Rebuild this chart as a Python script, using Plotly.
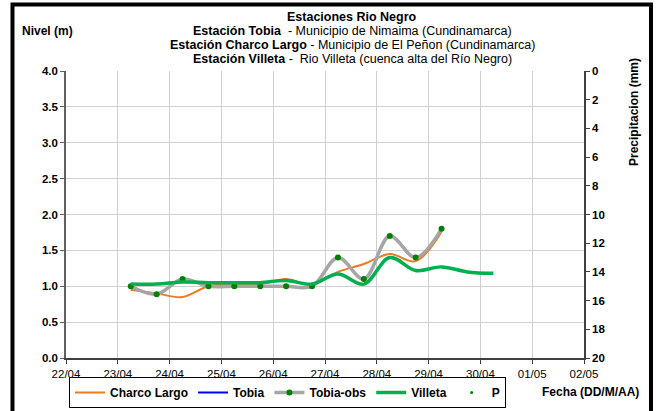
import plotly.graph_objects as go

# dates of the 12-hour readings
fechas = ["2011-04-23 06:00", "2011-04-23 18:00", "2011-04-24 06:00", "2011-04-24 18:00",
          "2011-04-25 06:00", "2011-04-25 18:00", "2011-04-26 06:00", "2011-04-26 18:00",
          "2011-04-27 06:00", "2011-04-27 18:00", "2011-04-28 06:00", "2011-04-28 18:00",
          "2011-04-29 06:00"]
fechas_villeta = fechas + ["2011-04-29 18:00", "2011-04-30 06:00"]

charco_largo = [0.95, 0.90, 0.85, 1.00, 1.03, 1.03, 1.10, 1.02, 1.20, 1.31, 1.45, 1.35, 1.76]
tobia = [1.00, 0.89, 1.10, 1.00, 1.00, 1.00, 1.00, 1.00, 1.40, 1.10, 1.70, 1.40, 1.80]
tobia_obs = [1.00, 0.89, 1.10, 1.00, 1.00, 1.00, 1.00, 1.00, 1.40, 1.10, 1.70, 1.40, 1.80]
villeta = [1.03, 1.03, 1.06, 1.05, 1.05, 1.05, 1.08, 1.03, 1.17, 1.03, 1.40, 1.22, 1.27, 1.20, 1.18]
precip = [None]  # no rainfall recorded in the period

x_ticks = ["2011-04-%02d" % d for d in range(22, 31)] + ["2011-05-01", "2011-05-02"]

FONT = "Liberation Sans, Arial, sans-serif"

W, H = 656, 411
# plot area in pixels: x 66..584, y 71..358
L, R, T, B = 66, 584, 71, 358
def px(x):
    return (x - L) / (R - L)
def py(y):
    return (B - y) / (B - T)

fig = go.Figure()
fig.add_trace(go.Scatter(x=fechas, y=charco_largo, name="<b>Charco Largo</b>", mode="lines",
                         line=dict(color="#EE7B22", width=2, shape="spline", smoothing=1)))
fig.add_trace(go.Scatter(x=fechas, y=tobia, name="<b>Tobia</b>", mode="lines",
                         line=dict(color="#0000FF", width=2, shape="spline", smoothing=1)))
fig.add_trace(go.Scatter(x=fechas, y=tobia_obs, name="<b>Tobia-obs</b>", mode="lines+markers",
                         line=dict(color="#A6A6A6", width=3.5, shape="spline", smoothing=1),
                         marker=dict(color="#008000", size=6)))
fig.add_trace(go.Scatter(x=fechas_villeta, y=villeta, name="<b>Villeta</b>", mode="lines",
                         line=dict(color="#00B050", width=3.5, shape="spline", smoothing=1)))
fig.add_trace(go.Scatter(x=[None], y=precip, name="<b>P</b>", mode="markers", yaxis="y2",
                         marker=dict(color="#008000", size=3)))

tick_font = dict(family=FONT, size=11.5, color="black")

fig.update_layout(
    width=W, height=H,
    margin=dict(l=L, r=W - R, t=T, b=H - B, autoexpand=False),
    paper_bgcolor="white", plot_bgcolor="white",
    font=dict(family=FONT, color="black"),
    showlegend=True,
    legend=dict(orientation="h", x=px(69), y=py(377), xanchor="left", yanchor="top",
                bordercolor="black", borderwidth=1, font=dict(size=12),
                itemwidth=30),
    xaxis=dict(type="date", range=["2011-04-22", "2011-05-02"], tickvals=x_ticks,
               tickformat="%d/%m", tickprefix="<b>", ticksuffix="</b>", tickfont=tick_font,
               showgrid=True, gridcolor="#CFCFCF",
               gridwidth=1, showline=True, linecolor="#404040", linewidth=1.5,
               ticks="outside", ticklen=4, tickcolor="#404040", zeroline=False),
    yaxis=dict(range=[0, 4], dtick=0.5, tickformat=".1f", tickprefix="<b>", ticksuffix="</b>",
               tickfont=tick_font,
               showgrid=True, gridcolor="#CFCFCF", gridwidth=1, showline=True,
               linecolor="#606060", linewidth=1.5, ticks="outside", ticklen=4,
               tickcolor="#606060", zeroline=False),
    yaxis2=dict(overlaying="y", side="right", range=[20, 0], dtick=2, tickfont=tick_font,
                tickprefix="<b>", ticksuffix="</b>",
                showgrid=False, showline=True, linecolor="#404040", linewidth=1.5,
                ticks="outside", ticklen=4, tickcolor="#404040", zeroline=False),
    yaxis3=dict(overlaying="y", side="right", range=[20, 0], dtick=2, showticklabels=False,
                showgrid=False, showline=False, ticks="inside", ticklen=4,
                tickcolor="#404040", zeroline=False),
)

# titles as annotations
title_lines = [
    ("<b>Estaciones Rio Negro</b>", 17),
    ("<b>Estación Tobia</b>  - Municipio de Nimaima (Cundinamarca)", 31),
    ("<b>Estación Charco Largo</b> - Municipio de El Peñon (Cundinamarca)", 45),
    ("<b>Estación Villeta</b> -  Rio Villeta (cuenca alta del Río Negro)", 59),
]
for txt, yy in title_lines:
    fig.add_annotation(text=txt, x=px(352), y=py(yy), xref="paper", yref="paper",
                       showarrow=False, xanchor="center", yanchor="middle",
                       font=dict(size=12.5, family=FONT))

fig.add_annotation(text="<b>Nivel (m)</b>", x=px(20), y=py(31), xref="paper", yref="paper",
                   showarrow=False, xanchor="left", yanchor="middle", font=dict(size=12))
fig.add_annotation(text="<b>Precipitacion (mm)</b>", x=px(634), y=py(112), xref="paper",
                   yref="paper", showarrow=False, textangle=-90, xanchor="center",
                   yanchor="middle", font=dict(size=12))
fig.add_annotation(text="<b>Fecha (DD/M/AA)</b>", x=px(641), y=py(392), xref="paper",
                   yref="paper", showarrow=False, xanchor="right", yanchor="middle",
                   font=dict(size=12))

# black outer frame
fig.add_shape(type="rect", xref="paper", yref="paper", x0=px(12.5), x1=px(651),
              y0=py(420), y1=py(4.5), line=dict(color="black", width=4), layer="above")

# drop the default 8px body margin so the figure fills the window
fig.write_html("out.html", config={"displayModeBar": False},
               post_script="document.body.style.margin='0';"
                           "document.body.style.overflow='hidden';")
